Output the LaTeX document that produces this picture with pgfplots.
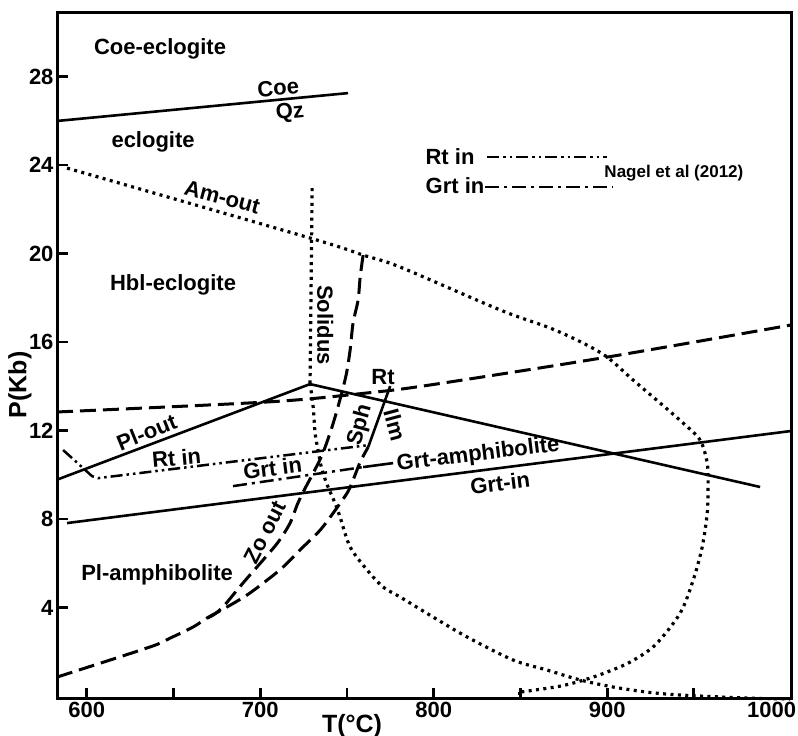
\documentclass[border=0pt]{standalone}
\usepackage{pgfplots}
\pgfplotsset{compat=1.18}
\usepackage{fontspec}
\setmainfont{Liberation Sans}

\tikzset{
  lab/.style={font=\bfseries\fontsize{22}{22}\selectfont, inner sep=0pt},
  solidln/.style={line width=2.6pt},
  dashln/.style={line width=3pt, dash pattern=on 16pt off 7pt},
  dotln/.style={line width=3.2pt, dash pattern=on 3pt off 4.4pt},
  dddln/.style={line width=2.5pt, dash pattern=on 12pt off 4pt on 2.5pt off 4pt on 2.5pt off 4pt},
  ddln/.style={line width=2.5pt, dash pattern=on 14pt off 5pt on 3pt off 5pt},
}

\begin{document}
\begin{tikzpicture}
\begin{axis}[
  scale only axis,
  width=734pt, height=686pt,
  xmin=582.8, xmax=1006,
  ymin=-0.13, ymax=30.87,
  clip=false,
  axis line style={line width=3pt},
  tick pos=left,
  tick align=inside,
  major tick length=11pt,
  tick style={line width=2.8pt, black},
  xtick={600,650,...,950},
  xticklabels={600,,700,,800,,900,},
  extra x ticks={1000},
  extra x tick labels={1000},
  extra x tick style={major tick length=0pt, xticklabel style={xshift=-9pt}},
  ytick={4,8,...,28},
  tick label style={font=\bfseries\fontsize{22}{22}\selectfont},
  /pgf/number format/assume math mode=true,
  xlabel={T(°C)},
  xlabel style={at={(axis description cs:0.402,-0.039)}, anchor=center, font=\bfseries\fontsize{25}{25}\selectfont},
  ylabel={P(Kb)},
  ylabel style={at={(axis description cs:-0.0505,0.458)}, anchor=center, font=\bfseries\fontsize{25}{25}\selectfont},
]
\coordinate (bl) at (rel axis cs:-0.07766,-0.05394);
\coordinate (tr) at (rel axis cs:1.00954,1.01895);

% Coe / Qz
\addplot[solidln] coordinates {(582.8,25.99) (750.6,27.25)};

% Am-out and the dotted loop
\addplot[dotln, smooth] coordinates {
  (588.6,23.86) (728.7,20.70) (759.3,19.93) (780.6,19.39) (838.3,17.45)
  (867.2,16.63) (886.2,15.95) (900.0,15.32) (915.0,14.28) (930.6,13.24)
  (943.8,12.34) (953.6,11.57) (957.7,10.53) (958.2,9.45) (957.7,8.27)
  (954.8,6.74) (949.6,5.24) (942.1,3.75) (927.7,2.31) (913.3,1.54)
  (900.0,1.09) (888.4,0.77) (872.9,0.45) (849.8,0.18)
};
\addplot[dotln] coordinates {(849.8,0.18) (849.8,-0.13)};

% Solidus
\addplot[dotln] coordinates {(729.9,22.96) (728.7,14.15)};
\addplot[dotln, smooth] coordinates {
  (728.7,14.15) (730.5,13.06) (731.6,11.89) (733.3,11.12) (735.6,10.22)
  (739.1,9.45) (743.1,8.72) (746.0,8.09) (751.8,6.74) (761.6,5.70)
  (770.8,4.93) (780.6,4.48) (799.7,3.57) (819.3,2.67) (845.8,1.63)
  (865.3,1.18) (884.4,0.73) (903.5,0.41) (923.1,0.18) (942.1,0.05)
  (980.8,-0.09) (1005.5,-0.13)
};

% Pl-out
\addplot[solidln] coordinates {(582.8,9.78) (728.7,14.10) (988.2,9.45)};

% Grt-in
\addplot[solidln] coordinates {(588.6,7.82) (1006,11.98)};

% upper dashed line
\addplot[dashln, smooth] coordinates {
  (582.8,12.84) (705.7,13.30) (761.6,13.70) (797.9,14.06) (900.0,15.32) (1006,16.77)
};

% lower dashed curve
\addplot[dashln, smooth] coordinates {
  (582.8,0.86) (636.4,2.22) (648.0,2.62) (661.2,3.12) (669.3,3.53)
  (680.9,4.03) (692.4,4.57) (703.9,5.24) (713.1,5.83) (724.7,6.74)
  (734.5,7.50) (742.0,8.27) (750.1,9.18) (753.5,9.76) (757.6,10.58) (762.2,11.25)
};
\addplot[solidln] coordinates {(762.2,11.25) (774.9,14.01)};

% Zo out
\addplot[dashln, smooth] coordinates {
  (759.3,19.93) (757.6,18.94) (756.4,17.90) (753.5,16.86) (751.8,15.64)
  (749.5,14.51) (745.4,13.24) (740.8,12.02) (735.6,10.89) (729.9,9.99)
  (724.7,9.22) (721.2,8.63) (717.2,7.82) (710.3,6.96) (701.6,6.15)
  (693.0,5.38) (686.6,4.79) (678.5,4.03) (672.8,3.66) (667.0,3.44)
};

% Nagel et al (2012): Rt in, Grt in
\addplot[dddln] coordinates {(586.3,11.12) (603.0,9.94) (606.5,9.85) (705.7,10.80) (763.3,11.35)};
\addplot[ddln] coordinates {(684.3,9.49) (759.3,10.35)};
\addplot[solidln] coordinates {(759.3,10.35) (776.6,10.53)};

% key
\addplot[dddln] coordinates {(830.8,24.36) (900.0,24.36)};
\addplot[ddln] coordinates {(829.6,23.00) (902.9,23.00)};

\node[lab] at (axis cs:809.4,24.36) {Rt in};
\node[lab] at (axis cs:812.3,23.09) {Grt in};
\node[lab, font=\bfseries\fontsize{17}{17}\selectfont] at (axis cs:938.5,23.64) {Nagel et al (2012)};

% field and curve labels
\node[lab] at (axis cs:642.2,29.24) {Coe-eclogite};
\node[lab, rotate=5] at (axis cs:710.3,27.48) {Coe};
\node[lab, rotate=6] at (axis cs:717.2,26.35) {Qz};
\node[lab] at (axis cs:638.2,25.04) {eclogite};
\node[lab, rotate=-15] at (axis cs:678.1,22.55) {Am-out};
\node[lab] at (axis cs:649.7,18.58) {Hbl-eclogite};
\node[lab, rotate=-90] at (axis cs:737.4,16.77) {Solidus};
\node[lab] at (axis cs:770.8,14.42) {Rt};
\node[lab, rotate=75] at (axis cs:757.6,12.25) {Sph};
\node[lab, rotate=-75] at (axis cs:777.7,12.25) {Ilm};
\node[lab, rotate=22] at (axis cs:634.4,11.93) {Pl-out};
\node[lab, rotate=5] at (axis cs:651.7,10.76) {Rt in};
\node[lab, rotate=7] at (axis cs:707.1,10.31) {Grt in};
\node[lab, rotate=7] at (axis cs:825.6,10.89) {Grt-amphibolite};
\node[lab, rotate=7] at (axis cs:838.3,9.63) {Grt-in};
\node[lab, rotate=63] at (axis cs:702.7,7.41) {Zo out};
\node[lab] at (axis cs:640.5,5.47) {Pl-amphibolite};
\end{axis}
\pgfresetboundingbox
\path[use as bounding box] (bl) rectangle (tr);
\end{tikzpicture}
\end{document}
